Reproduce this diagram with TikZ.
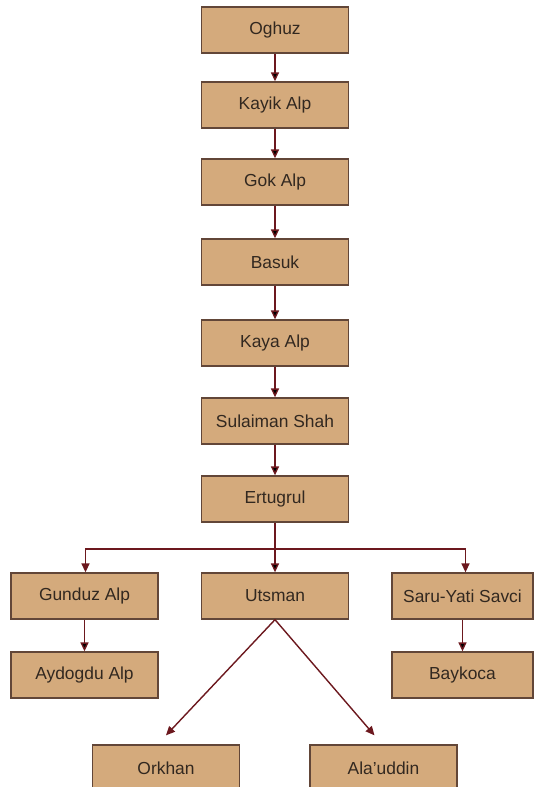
\documentclass[tikz,border=0pt]{standalone}
\usepackage{fontspec}
\setmainfont{Liberation Sans}
\usetikzlibrary{positioning,arrows.meta}

\definecolor{boxfill}{RGB}{212,170,124}
\definecolor{boxline}{RGB}{98,70,56}
\definecolor{arrowred}{RGB}{108,24,30}
\definecolor{textbrown}{RGB}{50,40,32}

\tikzset{
    person/.style={draw=boxline,fill=boxfill,line width=1.3pt,
        minimum width=147pt,minimum height=46pt,inner sep=2pt,
        text=textbrown,font=\fontsize{17.4}{20}\selectfont},
    link/.style={draw=arrowred,line width=1.4pt,
        -{Triangle[length=9pt,width=8pt]}}
}

\begin{document}
\begin{tikzpicture}[x=1pt,y=-1pt,on grid]
    \useasboundingbox (0,0) rectangle (535,787);
    \node[person] (oghuz) at (275,30) {Oghuz};
    \node[person] (kayik) [below=75pt of oghuz] {Kayik Alp};
    \node[person] (gok) [below=77pt of kayik] {Gok Alp};
    \node[person] (basuk) [below=80pt of gok] {Basuk};
    \node[person] (kaya) [below=81pt of basuk] {Kaya Alp};
    \node[person] (sulaiman) [below=78pt of kaya] {Sulaiman Shah};
    \node[person] (ertugrul) [below=78pt of sulaiman] {Ertugrul};
    \node[person] (utsman) [below=97pt of ertugrul] {Utsman};
    \node[person] (gunduz) [left=190.5pt of utsman] {Gunduz Alp};
    \node[person,minimum width=141pt] (saru) [right=187.5pt of utsman] {Saru-Yati Savci};
    \node[person] (aydogdu) [below=79pt of gunduz] {Aydogdu Alp};
    \node[person,minimum width=141pt] (baykoca) [below=79pt of saru] {Baykoca};
    \node[person] (orkhan) at (166,768) {Orkhan};
    \node[person] (alauddin) at (383.5,768) {Ala'uddin};
    \coordinate (split) at (275,549);

    \path[link]
        (oghuz) edge (kayik)
        (kayik) edge (gok)
        (gok) edge (basuk)
        (basuk) edge (kaya)
        (kaya) edge (sulaiman)
        (sulaiman) edge (ertugrul)
        (ertugrul) edge (utsman)
        (gunduz) edge (aydogdu)
        (saru) edge (baykoca);
    \draw[link] (split) -| ([xshift=1pt]gunduz.north);
    \draw[link] (split) -| ([xshift=3pt]saru.north);
    \draw[link] (utsman.south) -- ([yshift=9pt]orkhan.north);
    \draw[link] (utsman.south) -- ([xshift=-9pt,yshift=9pt]alauddin.north);
\end{tikzpicture}
\end{document}
